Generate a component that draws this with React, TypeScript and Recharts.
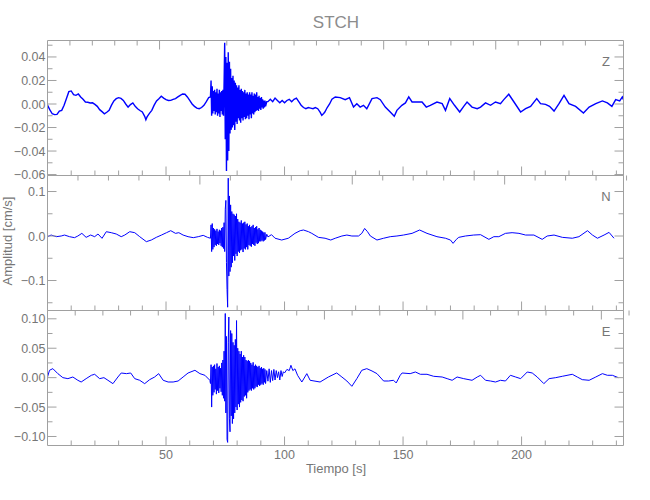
/**
 * STCH — three-component seismogram (Z / N / E), IDL-style boxed panels
 */
import { LineChart, Line, XAxis, YAxis } from 'recharts';

const FONT = "'Liberation Sans', Arial, sans-serif";
const AXIS = '#a0a0a0';
const TEXT = '#767676';
const TRACE = '#0000ff';

// time axis (s)
const timeTicks = [10, 20, 30, 40, 50, 60, 70, 80, 90, 100, 110, 120, 130, 140, 150, 160, 170, 180, 190, 200, 210, 220, 230, 240];
const timeLabels = [50, 100, 150, 200];

// amplitude ticks per panel (cm/s)
const zTicks = [-0.06, -0.05, -0.04, -0.03, -0.02, -0.01, 0, 0.01, 0.02, 0.03, 0.04, 0.05];
const zLabels = [-0.06, -0.04, -0.02, 0, 0.02, 0.04];
const nTicks = [-0.15, -0.1, -0.05, 0, 0.05, 0.1];
const nLabels = [-0.1, 0, 0.1];
const eTicks = [-0.1, -0.075, -0.05, -0.025, 0, 0.025, 0.05, 0.075, 0.1];
const eLabels = [-0.1, -0.05, 0, 0.05, 0.1];

// samples shared by all components during the strong motion
const burstTime = [
  68.75, 69, 69.25, 69.5, 69.75, 70, 70.25, 70.5,
  70.75, 71, 71.25, 71.5, 71.75, 72, 72.25, 72.5,
  72.75, 73, 73.25, 73.5, 73.75, 74, 74.25, 74.5,
  74.75, 75, 75.25, 75.5, 75.75, 76, 76.25, 76.5,
  76.75, 77, 77.25, 77.5, 77.75, 78, 78.25, 78.5,
  78.75, 79, 79.25, 79.5, 79.75, 80, 80.25, 80.5,
  80.75, 81, 81.25, 81.5, 81.75, 82, 82.25, 82.5,
  82.75, 83, 83.25, 83.5, 83.75, 84, 84.25, 84.5,
  84.75, 85, 85.25, 85.5, 85.75, 86, 86.25, 86.5,
  86.75, 87, 87.25, 87.5, 87.75, 88, 88.25, 88.5,
  88.75, 89, 89.25, 89.5, 89.75, 90, 90.25, 90.5,
  90.75, 91, 91.25, 91.5, 91.75, 92, 92.5,
];

// Z component
const zTime = [
  0, 1, 2, 3, 4, 5, 6, 7, 8, 9,
  10, 11, 12, 13, 14, 15, 16, 17, 18, 19,
  20, 21, 22, 23, 24, 25, 26, 27, 28, 29,
  30, 31, 32, 33, 34, 35, 36, 37, 38, 39,
  40, 41, 41.5, 42, 43, 44, 45, 46, 47, 48,
  49, 50, 51, 52, 53, 54, 55, 56, 57, 58,
  59, 60, 61, 62, 63, 64, 65, 66, 67, 68,
  93, 94, 95, 96, 97, 98, 99, 100, 101, 102,
  103, 104, 105, 106, 107, 108, 109, 110, 111, 112,
  113, 114, 115, 115.7, 116.5, 117, 118, 119, 120, 121.4,
  123.5, 125.6, 127.4, 129.1, 130.5, 131.9, 133.3, 134.7, 136.9, 139,
  140.4, 142.5, 144.6, 146.3, 147.4, 149.5, 151, 152.4, 153.8, 155.9,
  158, 159.8, 161.5, 164.3, 166.5, 167.9, 169.7, 171.7, 173.9, 175.6,
  177, 179.1, 181.3, 182.7, 184.8, 186.9, 189, 191.1, 192.5, 194.6,
  196.8, 199.6, 201.7, 203.8, 206.4, 208, 210.1, 211.8, 213.7, 215.8,
  217.9, 220, 222.8, 226.1, 228.5, 231.3, 234.1, 236.2, 238.1, 239.7,
  241.4, 242.5, 243,
];
const zAmp = [
  -0.001, -0.005, -0.0083, -0.009, -0.0088, -0.006, -0.0054, -0.001, 0.0046, 0.0105,
  0.0111, 0.008, 0.0074, 0.0085, 0.006, 0.004, 0.0017, 0.0015, 0.0009, 0.001,
  -0.0003, -0.002, -0.0048, -0.0065, -0.0083, -0.007, -0.0054, -0.001, 0.0026, 0.0045,
  0.0054, 0.0048, 0.0031, 0, -0.0026, -0.0005, 0.0009, -0.002, -0.004, -0.0055,
  -0.0068, -0.0105, -0.0134, -0.011, -0.008, -0.0054, -0.001, 0.0026, 0.0045, 0.0066,
  0.005, 0.0037, 0.003, 0.0031, 0.004, 0.0046, 0.006, 0.0074, 0.0085, 0.0083,
  0.006, 0.0031, 0, -0.002, -0.0035, -0.004, -0.003, -0.0011, 0.002, 0.0054,
  0.002, 0.004, 0.002, 0.005, 0.003, 0.001, 0.003, 0.001, 0.003, 0.004,
  0.002, 0.004, 0.005, 0.002, -0.001, -0.003, -0.004, -0.003, -0.0035, -0.004,
  -0.003, -0.004, -0.007, -0.0097, -0.008, -0.0068, -0.003, 0, 0.004, 0.006,
  0.0054, 0.0037, 0.0054, -0.0026, 0.0003, -0.0026, -0.0011, -0.004, 0.0046, 0.0054,
  0.0037, -0.0026, -0.0068, -0.0105, -0.0054, -0.0011, 0.0009, 0.006, 0.0017, 0.0017,
  0.0017, -0.0026, -0.0011, 0.0017, 0.0003, -0.0054, 0.0046, -0.0011, -0.0068, -0.002,
  0.0017, -0.0026, -0.004, -0.0026, 0.0009, -0.0011, 0.0017, 0.0003, 0.0037, 0.0083,
  0.0017, -0.0068, -0.004, -0.002, 0.0046, 0.0003, -0.0003, -0.002, -0.006, 0.0003,
  0.0074, 0.0003, -0.002, -0.0077, -0.0026, 0.0003, 0.0026, 0.0009, -0.002, 0.0037,
  0.0026, 0.006, 0.0037,
];
const zBurst = [
  0.006, 0.02, -0.01, 0.015, -0.008, 0.011, -0.006, 0.012,
  -0.009, 0.01, -0.007, 0.013, -0.01, 0.009, -0.008, 0.012,
  -0.011, 0.01, -0.006, 0.011, -0.009, 0.012, -0.01, 0.018,
  0.052, -0.03, 0.04, -0.057, 0.035, -0.048, 0.044, -0.04,
  0.036, -0.025, 0.03, -0.022, 0.022, -0.02, 0.024, -0.018,
  0.02, -0.022, 0.018, -0.015, 0.016, -0.017, 0.014, -0.012,
  0.016, -0.014, 0.012, -0.016, 0.013, -0.012, 0.011, -0.014,
  0.01, -0.011, 0.012, -0.013, 0.009, -0.012, 0.01, -0.01,
  0.008, -0.013, 0.01, -0.009, 0.008, -0.012, 0.01, -0.008,
  0.007, -0.009, 0.009, -0.007, 0.008, -0.006, 0.01, -0.005,
  0.006, -0.006, 0.007, -0.004, 0.005, -0.005, 0.006, -0.003,
  0.004, -0.004, 0.003, -0.003, 0.003, -0.002, 0.002,
];

// N component
const nTime = [
  0, 1.55, 3.66, 5.78, 7.19, 9.3, 11.4, 12.8, 14.5, 16.3,
  18.2, 19.9, 21.3, 23, 24.8, 26.9, 29, 31.1, 32.6, 34.7,
  36.8, 38.9, 41.7, 43.8, 45.9, 48.1, 50.2, 52, 54, 55.4,
  57.2, 59.3, 61.5, 63.6, 65.7, 67.5, 93, 94.5, 96, 98.8,
  101.6, 104.4, 106.6, 108, 110.1, 111.5, 114.3, 117.1, 119.5, 121.4,
  124.2, 126.3, 128.4, 131.2, 132.6, 133.8, 135, 136.2, 139, 141.8,
  144.6, 147.4, 150.2, 153.8, 157, 160.1, 164.3, 167.9, 170, 171.1,
  172.5, 173.5, 176.3, 179.8, 182.7, 186.2, 188.3, 190.4, 193.2, 196,
  198.9, 201.7, 205.2, 208.7, 210.8, 213.7, 217.2, 221.4, 224.2, 227.8,
  229.9, 232, 234.8, 236.9, 239,
];
const nAmp = [
  -0.0015, 0.0022, -0.0015, 0, 0.0022, -0.0015, -0.0037, 0, 0.006, -0.003,
  0.0022, -0.0015, 0.0045, -0.0052, 0.0097, 0.0075, 0.0045, -0.0015, 0.0022, 0.0097,
  0.0075, -0.0015, -0.0127, -0.009, -0.003, 0.0022, 0.0075, 0.012, 0.006, 0.0075,
  0.0022, -0.0015, -0.0037, -0.0015, 0.0015, -0.003, -0.002, 0.003, -0.005, -0.009,
  -0.005, 0.006, 0.012, 0.0135, 0.0097, 0.006, -0.003, -0.005, -0.009, -0.005,
  0, 0.0022, 0, 0, 0.006, 0.017, 0.0097, 0, -0.009, -0.005,
  -0.0015, 0, 0.0022, 0.006, 0.0135, 0.006, -0.0015, -0.005, -0.009, -0.0165,
  -0.0075, -0.003, 0, 0.0022, 0.003, -0.0075, -0.0015, -0.0015, 0.006, 0.0075,
  0.006, 0.0022, 0.0022, -0.0075, 0, 0.0022, -0.003, -0.005, -0.0015, 0.012,
  0.0022, -0.005, 0.0022, 0.0082, -0.005,
];
const nBurst = [
  -0.005, 0.025, -0.035, 0.028, -0.03, 0.018, -0.025, 0.015,
  -0.02, 0.012, -0.022, 0.016, -0.018, 0.01, -0.02, 0.014,
  -0.016, 0.012, -0.022, 0.018, -0.025, 0.02, -0.028, 0.03,
  -0.035, 0.06, 0.08, -0.06, -0.12, -0.16, 0.13, -0.09,
  0.09, -0.08, 0.07, -0.07, 0.055, -0.06, 0.05, -0.045,
  0.048, -0.055, 0.045, -0.04, 0.05, -0.045, 0.038, -0.035,
  0.032, -0.038, 0.03, -0.032, 0.035, -0.03, 0.028, -0.036,
  0.03, -0.028, 0.032, -0.03, 0.026, -0.025, 0.028, -0.03,
  0.022, -0.02, 0.025, -0.022, 0.02, -0.024, 0.022, -0.018,
  0.025, -0.02, 0.018, -0.022, 0.02, -0.015, 0.022, -0.018,
  0.015, -0.016, 0.018, -0.012, 0.014, -0.012, 0.012, -0.01,
  0.01, -0.012, 0.008, -0.01, 0.008, -0.008, 0.004,
];

// E component
const eTime = [
  0, 0.85, 2.26, 4.37, 6.48, 8.6, 10.7, 12.8, 14.2, 16.3,
  18.5, 19.9, 22, 23.8, 25.5, 27.6, 29.7, 31.1, 33.3, 35.1,
  36.8, 38.9, 41, 43.1, 45.2, 46.9, 48.8, 50.9, 53, 55.1,
  57.2, 59.3, 62.2, 64.3, 66.4, 68.5, 93, 93.5, 94, 94.5,
  95, 95.5, 96, 96.5, 97, 97.5, 98, 98.5, 99, 99.5,
  100, 101, 102, 102.7, 103.5, 104.4, 105.5, 107.3, 109.4, 110.8,
  115, 118.5, 122, 124.2, 126.3, 128.4, 130.5, 132.6, 134.7, 136.9,
  139, 141.8, 143.9, 146, 147.1, 148.8, 149.6, 153, 155.2, 157.3,
  160.1, 162.9, 166.5, 168.6, 170.7, 172.8, 175.6, 179.1, 181.3, 182.7,
  184.8, 186.9, 189, 191.1, 193.2, 195.3, 197.5, 199.6, 202.4, 204.5,
  206.6, 209.4, 211.6, 214.4, 217.2, 221.4, 223.5, 225.6, 228.5, 231.3,
  234.1, 236.2, 238.3, 240.8,
];
const eAmp = [
  0.0011, 0.0125, 0.0153, 0.0068, 0, -0.0017, 0.0011, -0.0045, -0.0074, -0.0017,
  0.004, 0.0057, -0.0017, 0, -0.0045, -0.0102, 0.0011, 0.0079, 0.0068, 0.0079,
  -0.0017, -0.0045, -0.0102, -0.0034, 0.0011, 0.0068, -0.0045, -0.0074, -0.0074, -0.0057,
  0.0011, 0.0079, 0.0125, 0.0068, 0.004, -0.0045, -0.006, 0.015, -0.008, 0.012,
  -0.005, 0.014, -0.004, 0.012, 0, 0.01, -0.004, 0.012, 0.002, 0.01,
  0.008, 0.014, 0.012, 0.021, 0.012, 0.015, 0.004, -0.0074, 0.0068, -0.0045,
  -0.0074, 0.0011, 0.008, 0.0011, -0.0057, -0.0147, -0.0017, 0.0125, 0.0153, 0.0113,
  0.0068, -0.0057, -0.0057, -0.0045, -0.009, 0.004, 0.0079, 0.0068, 0.0096, 0.0057,
  0.0057, 0.0023, 0.0011, -0.0017, -0.0045, 0.0011, -0.0017, -0.0045, 0.0011, 0.004,
  -0.0045, -0.0057, -0.0074, -0.0045, -0.0057, 0.004, 0.0011, -0.0017, 0.0096, 0.0079,
  0.0011, -0.0102, -0.0017, 0, 0.0023, 0.0057, 0.0011, -0.0034, -0.0045, 0.0011,
  0.0068, 0.004, 0.004, 0,
];
const eBurst = [
  -0.01, 0.022, -0.05, 0.018, -0.03, 0.02, -0.025, 0.022,
  -0.02, 0.015, -0.028, 0.024, -0.022, 0.018, -0.026, 0.02,
  -0.018, 0.016, -0.024, 0.025, -0.03, 0.03, -0.035, 0.045,
  -0.04, 0.109, -0.06, 0.07, -0.105, -0.11, 0.06, 0.103,
  -0.07, -0.092, 0.08, -0.065, 0.075, -0.078, 0.06, -0.07,
  0.055, -0.06, 0.065, -0.05, 0.097, -0.055, 0.05, -0.045,
  0.045, -0.05, 0.04, -0.042, 0.045, -0.038, 0.035, -0.04,
  0.038, -0.032, 0.035, -0.03, 0.03, -0.035, 0.028, -0.025,
  0.03, -0.022, 0.028, -0.02, 0.025, -0.022, 0.022, -0.018,
  0.026, -0.02, 0.02, -0.018, 0.022, -0.015, 0.02, -0.016,
  0.018, -0.012, 0.02, -0.014, 0.016, -0.012, 0.018, -0.01,
  0.015, -0.012, 0.016, -0.008, 0.014, -0.01, 0.012,
];

type Pt = { t: number; v: number };

function buildTrace(times: number[], amps: number[], burst: number[]): Pt[] {
  const pts: Pt[] = times.map((t, i) => ({ t, v: amps[i] }));
  burstTime.forEach((t, i) => pts.push({ t, v: burst[i] }));
  return pts.sort((a, b) => a.t - b.t);
}

const isIn = (list: number[], v: number) => list.some((l) => Math.abs(l - v) < 1e-9);

const fmtAmp = (digits: number) => (v: number) =>
  (Math.abs(v) < 1e-9 ? 0 : v).toFixed(digits).replace('-', '\u2212');

// inward IDL-style tick marks, long ones where a label sits
function makeTick(side: 'left' | 'right' | 'top' | 'bottom', majors: number[], fmt?: (v: number) => string) {
  return (props: any) => {
    const { x, y, payload } = props;
    const v = payload.value as number;
    const major = isIn(majors, v);
    const len = major ? 9 : 5;
    let x2 = x;
    let y2 = y;
    if (side === 'left') x2 = x + len;
    if (side === 'right') x2 = x - len;
    if (side === 'top') y2 = y + len;
    if (side === 'bottom') y2 = y - len;
    let label = null;
    if (fmt && major) {
      label =
        side === 'left' ? (
          <text x={x - 2} y={y} dy="0.36em" textAnchor="end" fill={TEXT} fontSize={12.5} fontFamily={FONT}>
            {fmt(v)}
          </text>
        ) : (
          <text x={x} y={y + 13} textAnchor="middle" fill={TEXT} fontSize={12.5} fontFamily={FONT}>
            {fmt(v)}
          </text>
        );
    }
    return (
      <g>
        <line x1={x} y1={y} x2={x2} y2={y2} stroke={AXIS} strokeWidth={1} />
        {label}
      </g>
    );
  };
}

interface PanelProps {
  top: number;
  bottom: number;
  domain: [number, number];
  ticks: number[];
  labels: number[];
  digits: number;
  data: Pt[];
  showTime: boolean;
  width: number;
}

// axes of 1px thickness so recharts keeps drawing them; margins compensate
function Panel({ top, bottom, domain, ticks, labels, digits, data, showTime, width }: PanelProps) {
  return (
    <div style={{ position: 'absolute', left: 0, top: 0 }}>
      <LineChart width={650} height={500} data={data} margin={{ top: top - 1, bottom: 500 - bottom - 1, left: 0.5, right: 25.5 }}>
        <XAxis
          dataKey="t" type="number" domain={[0, 243]} allowDataOverflow ticks={timeTicks} interval={0}
          height={1} tickSize={0} tickMargin={0} tickLine={false} stroke={AXIS}
          tick={makeTick('bottom', timeLabels, showTime ? (v) => String(v) : undefined)}
        />
        <XAxis
          xAxisId="top" orientation="top" type="number" domain={[0, 243]} allowDataOverflow ticks={timeTicks} interval={0}
          height={1} tickSize={0} tickMargin={0} tickLine={false} stroke={AXIS}
          tick={makeTick('top', timeLabels)}
        />
        <YAxis
          type="number" domain={domain} allowDataOverflow ticks={ticks} interval={0}
          width={47} tickSize={0} tickMargin={0} tickLine={false} stroke={AXIS}
          tick={makeTick('left', labels, fmtAmp(digits))}
        />
        <YAxis
          yAxisId="right" orientation="right" type="number" domain={domain} allowDataOverflow ticks={ticks} interval={0}
          width={1} tickSize={0} tickMargin={0} tickLine={false} stroke={AXIS}
          tick={makeTick('right', labels)}
        />
        <Line type="linear" dataKey="v" stroke={TRACE} strokeWidth={width} dot={false} isAnimationActive={false} />
      </LineChart>
    </div>
  );
}

const panels: (PanelProps & { name: string })[] = [
  { name: 'Z', top: 40.5, bottom: 175.5, domain: [-0.0608, 0.054], ticks: zTicks, labels: zLabels, digits: 2, data: buildTrace(zTime, zAmp, zBurst), showTime: false, width: 1.4 },
  { name: 'N', top: 175.5, bottom: 310.5, domain: [-0.1674, 0.136], ticks: nTicks, labels: nLabels, digits: 1, data: buildTrace(nTime, nAmp, nBurst), showTime: false, width: 1 },
  { name: 'E', top: 310.5, bottom: 445.5, domain: [-0.1153, 0.1141], ticks: eTicks, labels: eLabels, digits: 2, data: buildTrace(eTime, eAmp, eBurst), showTime: true, width: 1 },
];

export default function App() {
  return (
    <div style={{ position: 'absolute', left: 0, top: 0, width: 650, height: 500, background: '#fff' }}>
      {panels.map((p) => (
        <Panel key={p.name} {...p} />
      ))}
      <svg width={650} height={500} style={{ position: 'absolute', left: 0, top: 0, pointerEvents: 'none' }}>
        <text x={336} y={27.5} textAnchor="middle" fill="#8c8c8c" fontSize={17} fontFamily={FONT}>STCH</text>
        {panels.map((p) => (
          <text key={p.name} x={606} y={p.top + 25.5} textAnchor="middle" fill={TEXT} fontSize={13} fontFamily={FONT}>
            {p.name}
          </text>
        ))}
        <text x={336} y={473} textAnchor="middle" fill={TEXT} fontSize={13} fontFamily={FONT}>Tiempo [s]</text>
        <text transform="translate(12, 241) rotate(-90)" textAnchor="middle" fill={TEXT} fontSize={13} fontFamily={FONT}>
          Amplitud [cm/s]
        </text>
      </svg>
    </div>
  );
}
